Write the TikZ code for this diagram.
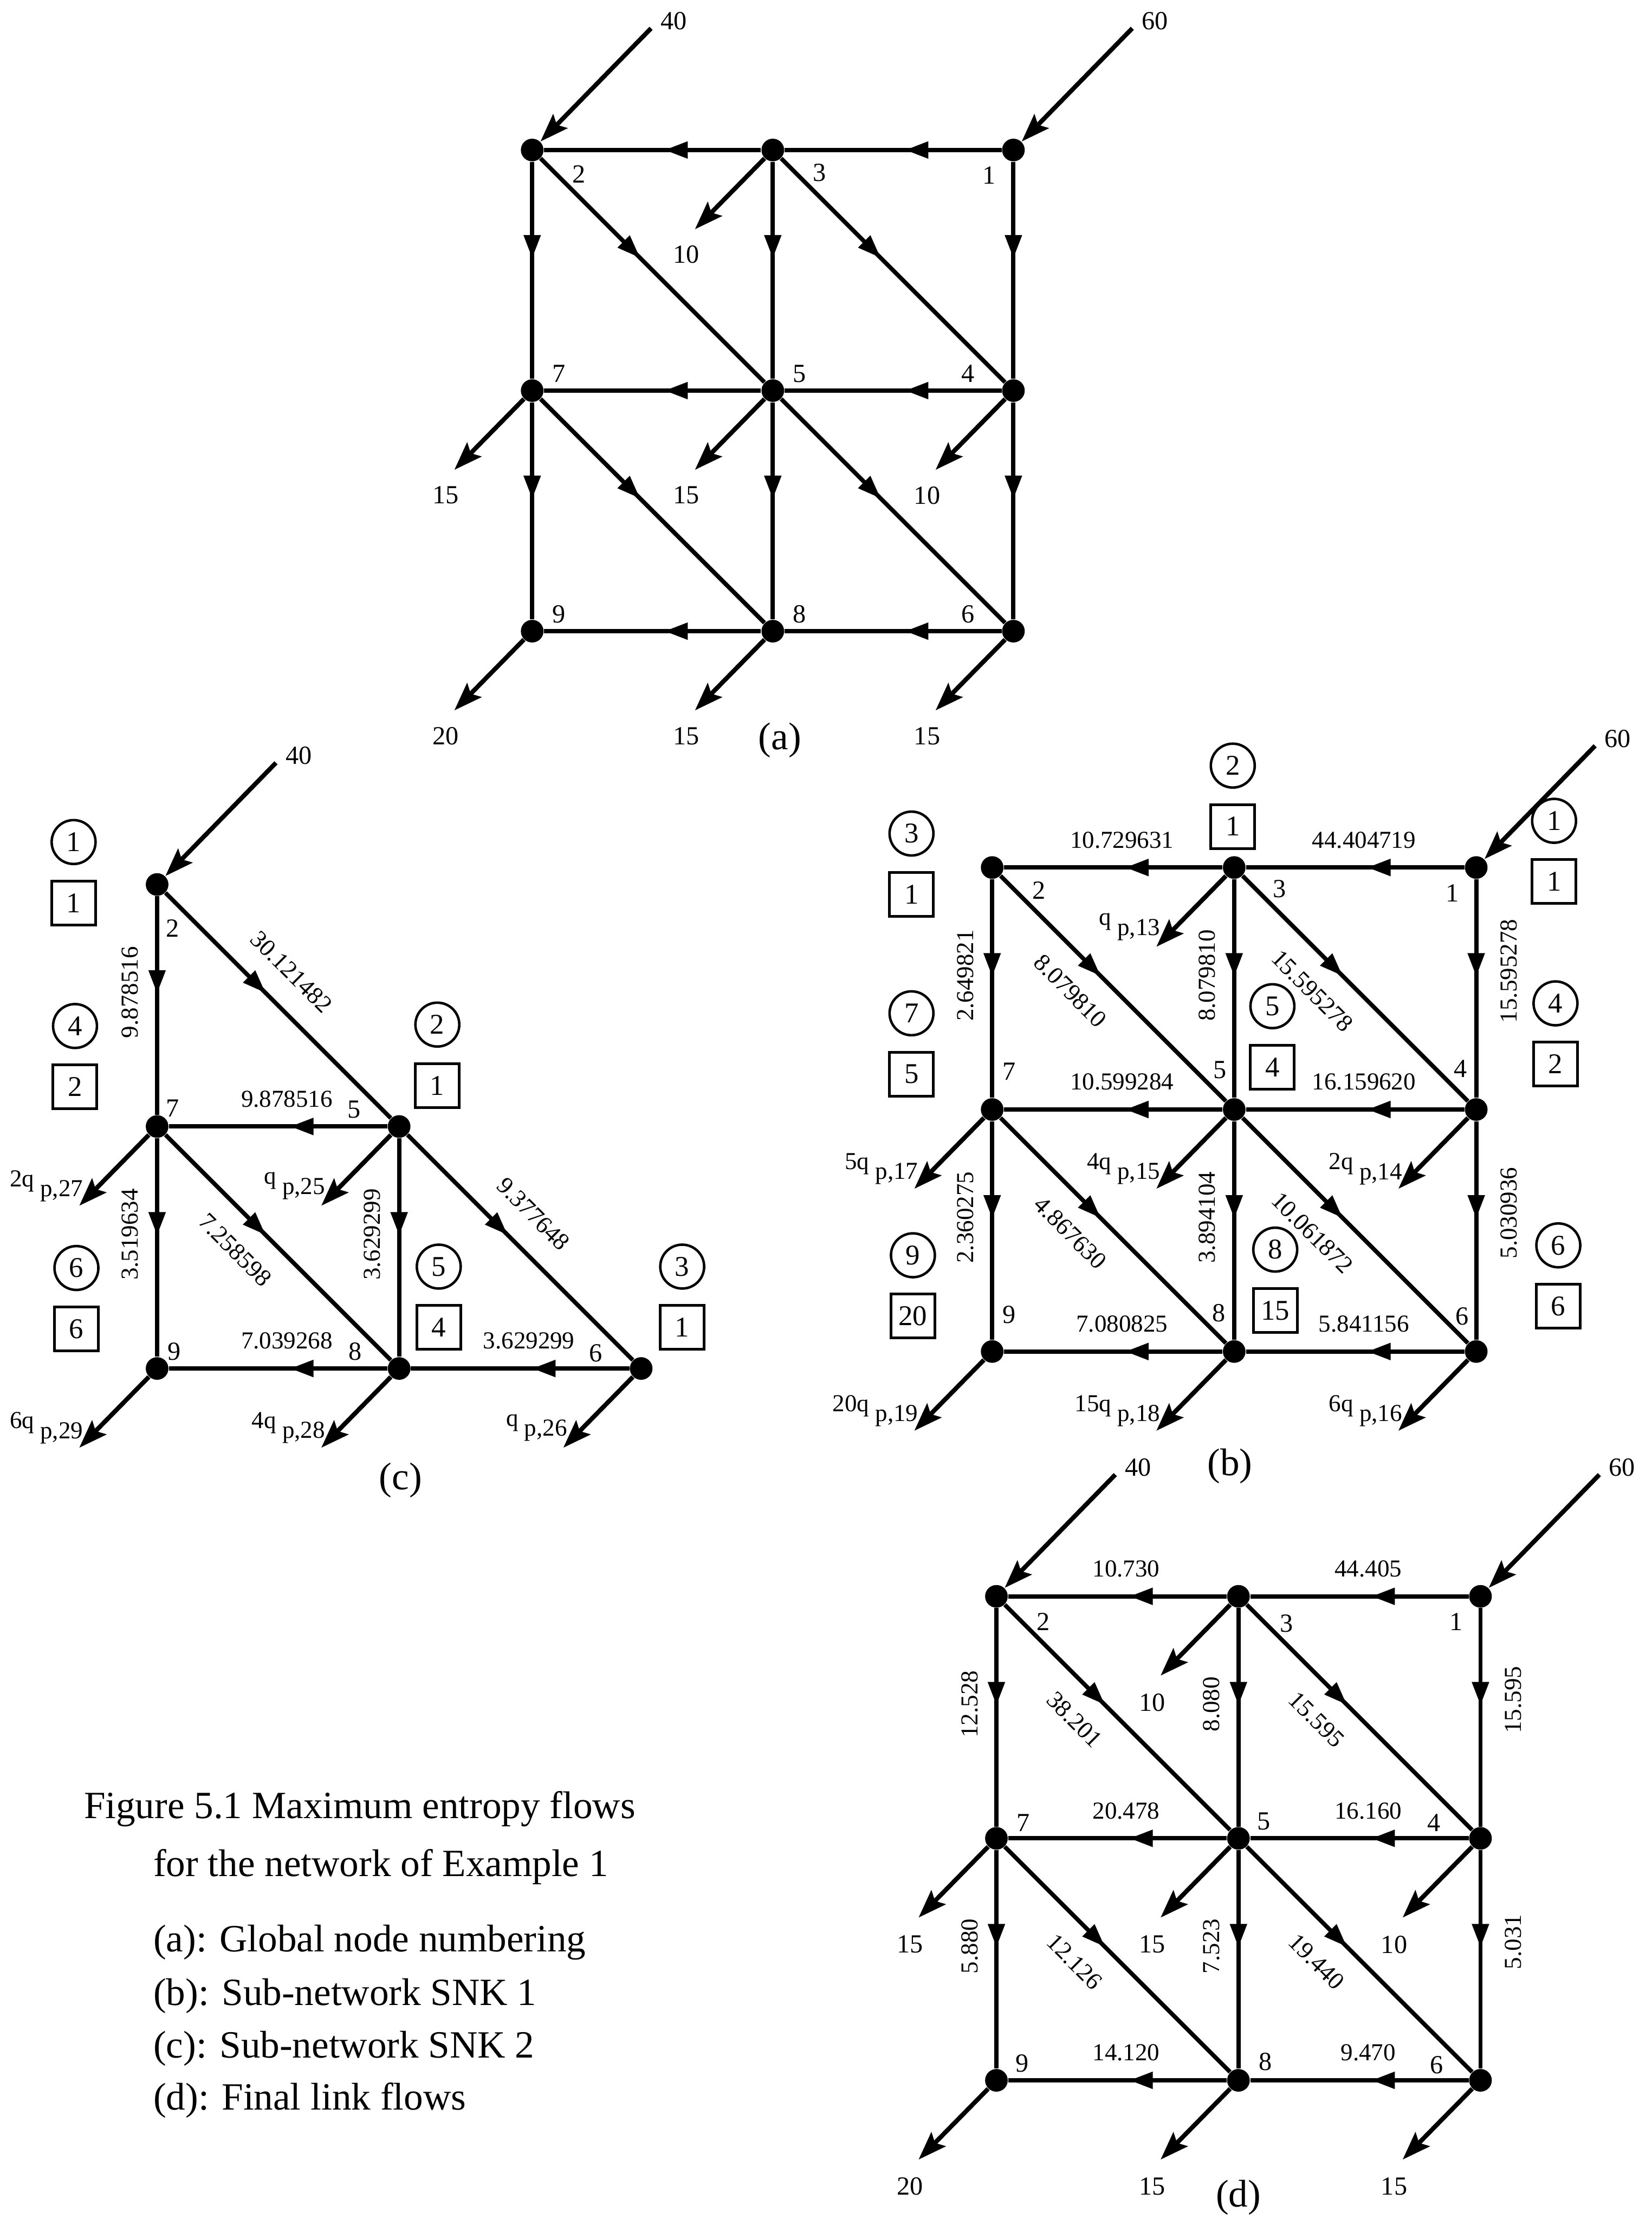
\documentclass[tikz,border=0pt]{standalone}
\usepackage{fontspec}
\setmainfont{Liberation Serif}
\usepackage{tikz}
\usetikzlibrary{arrows.meta,calc,decorations.markings}
\tikzset{
  dot/.style={circle, fill=black, inner sep=0pt, minimum size=3.2mm},
  link/.style={line width=1.7pt, postaction={decorate},
    decoration={markings, mark=at position 0.445 with {\arrow{Triangle[length=3.3mm, width=2.3mm]}}}},
  inflow/.style={line width=1.8pt, -{Stealth[length=4mm, width=2.8mm, inset=0.7mm]}},
  outflow/.style={inflow},
  nlbl/.style={inner sep=0pt, font=\fontsize{10.5}{12}\selectfont},
  flbl/.style={inner sep=0pt, font=\fontsize{9.8}{11}\selectfont},
  tagc/.style={circle, draw, line width=1pt, minimum size=6.2mm, inner sep=0pt, font=\fontsize{11.5}{13}\selectfont},
  tagb/.style={rectangle, draw, line width=1.1pt, minimum size=6.2mm, inner sep=0pt, font=\fontsize{11.5}{13}\selectfont},
  hup/.style={flbl, pos=0.46, yshift=3.9mm},
  vleft/.style={flbl, pos=0.44, xshift=-3.8mm, rotate=90},
  vright/.style={flbl, pos=0.42, xshift=4.6mm, rotate=90},
  dlow/.style={flbl, pos=0.41, xshift=-3.2mm, yshift=-3.2mm, rotate=-45},
  dup/.style={flbl, pos=0.455, xshift=3.3mm, yshift=3.3mm, rotate=-45},
  panel/.style={inner sep=0pt, font=\fontsize{15.5}{18}\selectfont},
  capt/.style={anchor=base west, inner sep=0pt, font=\fontsize{15.5}{18}\selectfont}
}

\begin{document}
\begin{tikzpicture}[x=0.2mm, y=-0.2mm]
\useasboundingbox (0,0) rectangle (1167,1568);

% ---------- (a) global node numbering
\foreach \n/\i/\j in {1/2/0, 2/0/0, 3/1/0, 4/2/1, 5/1/1, 6/2/2, 7/0/1, 8/1/2, 9/0/2}
  \node[dot] (a\n) at ({376+170*\i}, {106+170*\j}) {};
\foreach \sa/\ta in {1/3, 3/2, 2/7, 3/5, 1/4, 2/5, 3/4, 4/5, 5/7, 7/9, 5/8, 4/6, 7/8, 5/6, 6/8, 8/9}
  \draw[link] (a\sa) -- (a\ta);
\foreach \n/\dx/\dy in {1/-17/18, 2/33/17, 3/33/16, 4/-32/-12, 5/19/-12, 6/-32/-12, 7/19/-12, 8/19/-12, 9/19/-12}
  \node[nlbl] (la\n) at ($(a\n)+(\dx,\dy)$) {\n};
\foreach \n/\dm in {3/10, 7/15, 5/15, 4/10, 9/20, 8/15, 6/15} {
  \coordinate (ea\n) at ($(a\n)+(-55,56)$);
  \draw[outflow] (a\n) -- (ea\n);
  \node[nlbl] (qa\n) at ($(ea\n)+(-6,18)$) {\dm};
}
\foreach \n/\dm in {2/40, 1/60} {
  \coordinate (sa\n) at ($(a\n)+(84,-86)$);
  \draw[inflow] (sa\n) -- (a\n);
  \node[nlbl] (wa\n) at ($(sa\n)+(16,-5)$) {\dm};
}
\node[panel] (pa) at (551,523) {(a)};

% ---------- (b) sub-network SNK 1
\foreach \n/\i/\j in {1/2/0, 2/0/0, 3/1/0, 4/2/1, 5/1/1, 6/2/2, 7/0/1, 8/1/2, 9/0/2}
  \node[dot] (b\n) at ({701+171*\i}, {613+171*\j}) {};
\draw[link] (b3) -- node[hup] {10.729631} (b2);
\draw[link] (b1) -- node[hup] {44.404719} (b3);
\draw[link] (b2) -- node[vleft] {2.649821} (b7);
\draw[link] (b3) -- node[vleft] {8.079810} (b5);
\draw[link] (b1) -- node[vright] {15.595278} (b4);
\draw[link] (b2) -- node[dlow] {8.079810} (b5);
\draw[link] (b3) -- node[dlow] {15.595278} (b4);
\draw[link] (b4) -- node[hup] {16.159620} (b5);
\draw[link] (b5) -- node[hup] {10.599284} (b7);
\draw[link] (b7) -- node[vleft] {2.360275} (b9);
\draw[link] (b5) -- node[vleft] {3.894104} (b8);
\draw[link] (b4) -- node[vright] {5.030936} (b6);
\draw[link] (b7) -- node[dlow] {4.867630} (b8);
\draw[link] (b5) -- node[dlow] {10.061872} (b6);
\draw[link] (b8) -- node[hup] {7.080825} (b9);
\draw[link] (b6) -- node[hup] {5.841156} (b8);
\foreach \n/\dx/\dy in {1/-17/18, 2/33/16, 3/32/15, 4/-11/-29, 5/-10/-28, 6/-10/-25, 7/12/-27, 8/-11/-27, 9/12/-26}
  \node[nlbl] (lb\n) at ($(b\n)+(\dx,\dy)$) {\n};
\foreach \n/\dx/\dy/\ci/\bo in {2/-57/-24/3/1, 3/-1/-72/2/1, 1/55/-33/1/1, 7/-57/-68/7/5, 5/27/-73/5/4,
                               4/56/-75/4/2, 9/-56/-68/9/20, 8/29/-72/8/15, 6/58/-75/6/6} {
  \node[tagc] (cb\n) at ($(b\n)+(\dx,\dy)$) {\ci};
  \node[tagb] (bb\n) at ($(cb\n)+(0,43)$) {\bo};
}
\foreach \n/\dm/\pk in {3/q/13, 5/4q/15, 4/2q/14, 7/5q/17, 9/20q/19, 8/15q/18, 6/6q/16} {
  \coordinate (eb\n) at ($(b\n)+(-55,56)$);
  \draw[outflow] (b\n) -- (eb\n);
  \node[flbl, anchor=east] (qb\n) at ($(eb\n)+(3,-14)$) {\dm\ \raisebox{-4pt}{p,\pk}};
}
\coordinate (sb1) at ($(b1)+(84,-86)$);
\draw[inflow] (sb1) -- (b1);
\node[nlbl] (wb1) at ($(sb1)+(16,-5)$) {60};
\node[panel] (pb) at (869,1036) {(b)};

% ---------- (c) sub-network SNK 2
\foreach \n/\i/\j in {2/0/0, 5/1/1, 6/2/2, 7/0/1, 8/1/2, 9/0/2}
  \node[dot] (c\n) at ({111+171*\i}, {625+171*\j}) {};
\draw[link] (c2) -- node[vleft] {9.878516} (c7);
\draw[link] (c2) -- node[dup] {30.121482} (c5);
\draw[link] (c5) -- node[hup] {9.878516} (c7);
\draw[link] (c7) -- node[vleft] {3.519634} (c9);
\draw[link] (c7) -- node[dlow] {7.258598} (c8);
\draw[link] (c5) -- node[vleft] {3.629299} (c8);
\draw[link] (c5) -- node[dup] {9.377648} (c6);
\draw[link] (c8) -- node[hup] {7.039268} (c9);
\draw[link] (c6) -- node[hup] {3.629299} (c8);
\foreach \n/\dx/\dy in {2/11/31, 5/-32/-12, 6/-32/-11, 7/11/-13, 8/-31/-12, 9/12/-12}
  \node[nlbl] (lc\n) at ($(c\n)+(\dx,\dy)$) {\n};
\foreach \n/\dx/\dy/\ci/\bo in {2/-59/-30/1/1, 7/-58/-71/4/2, 5/27/-72/2/1, 9/-57/-71/6/6, 8/28/-72/5/4, 6/29/-72/3/1} {
  \node[tagc] (cc\n) at ($(c\n)+(\dx,\dy)$) {\ci};
  \node[tagb] (bc\n) at ($(cc\n)+(0,43)$) {\bo};
}
\foreach \n/\dm/\pk in {5/q/25, 7/2q/27, 9/6q/29, 8/4q/28, 6/q/26} {
  \coordinate (ec\n) at ($(c\n)+(-55,56)$);
  \draw[outflow] (c\n) -- (ec\n);
  \node[flbl, anchor=east] (qc\n) at ($(ec\n)+(3,-14)$) {\dm\ \raisebox{-4pt}{p,\pk}};
}
\coordinate (sc2) at ($(c2)+(84,-86)$);
\draw[inflow] (sc2) -- (c2);
\node[nlbl] (wc2) at ($(sc2)+(16,-5)$) {40};
\node[panel] (pc) at (283,1046) {(c)};

% ---------- (d) final link flows
\foreach \n/\i/\j in {1/2/0, 2/0/0, 3/1/0, 4/2/1, 5/1/1, 6/2/2, 7/0/1, 8/1/2, 9/0/2}
  \node[dot] (d\n) at ({704+171*\i}, {1128+171*\j}) {};
\draw[link] (d3) -- node[hup] {10.730} (d2);
\draw[link] (d1) -- node[hup] {44.405} (d3);
\draw[link] (d2) -- node[vleft] {12.528} (d7);
\draw[link] (d3) -- node[vleft] {8.080} (d5);
\draw[link] (d1) -- node[vright] {15.595} (d4);
\draw[link] (d2) -- node[dlow] {38.201} (d5);
\draw[link] (d3) -- node[dlow] {15.595} (d4);
\draw[link] (d4) -- node[hup] {16.160} (d5);
\draw[link] (d5) -- node[hup] {20.478} (d7);
\draw[link] (d7) -- node[vleft] {5.880} (d9);
\draw[link] (d5) -- node[vleft] {7.523} (d8);
\draw[link] (d4) -- node[vright] {5.031} (d6);
\draw[link] (d7) -- node[dlow] {12.126} (d8);
\draw[link] (d5) -- node[dlow] {19.440} (d6);
\draw[link] (d8) -- node[hup] {14.120} (d9);
\draw[link] (d6) -- node[hup] {9.470} (d8);
\foreach \n/\dx/\dy in {1/-17/18, 2/33/18, 3/34/19, 4/-33/-11, 5/18/-12, 6/-31/-11, 7/19/-11, 8/19/-13, 9/18/-12}
  \node[nlbl] (ld\n) at ($(d\n)+(\dx,\dy)$) {\n};
\foreach \n/\dm in {3/10, 7/15, 5/15, 4/10, 9/20, 8/15, 6/15} {
  \coordinate (ed\n) at ($(d\n)+(-55,56)$);
  \draw[outflow] (d\n) -- (ed\n);
  \node[nlbl] (qd\n) at ($(ed\n)+(-6,19)$) {\dm};
}
\foreach \n/\dm in {2/40, 1/60} {
  \coordinate (sd\n) at ($(d\n)+(84,-86)$);
  \draw[inflow] (sd\n) -- (d\n);
  \node[nlbl] (wd\n) at ($(sd\n)+(16,-5)$) {\dm};
}
\node[panel] (pd) at (875,1553) {(d)};

% ---------- caption
\node[capt] (cap1) at (59,1285) {Figure 5.1 Maximum entropy flows};
\node[capt] (cap2) at (108,1326) {for the network of Example 1};
\node[capt] (cap3) at (108,1379) {(a): Global node numbering};
\node[capt] (cap4) at (108,1417) {(b): Sub-network SNK 1};
\node[capt] (cap5) at (108,1454) {(c): Sub-network SNK 2};
\node[capt] (cap6) at (108,1491) {(d): Final link flows};
\end{tikzpicture}
\end{document}
